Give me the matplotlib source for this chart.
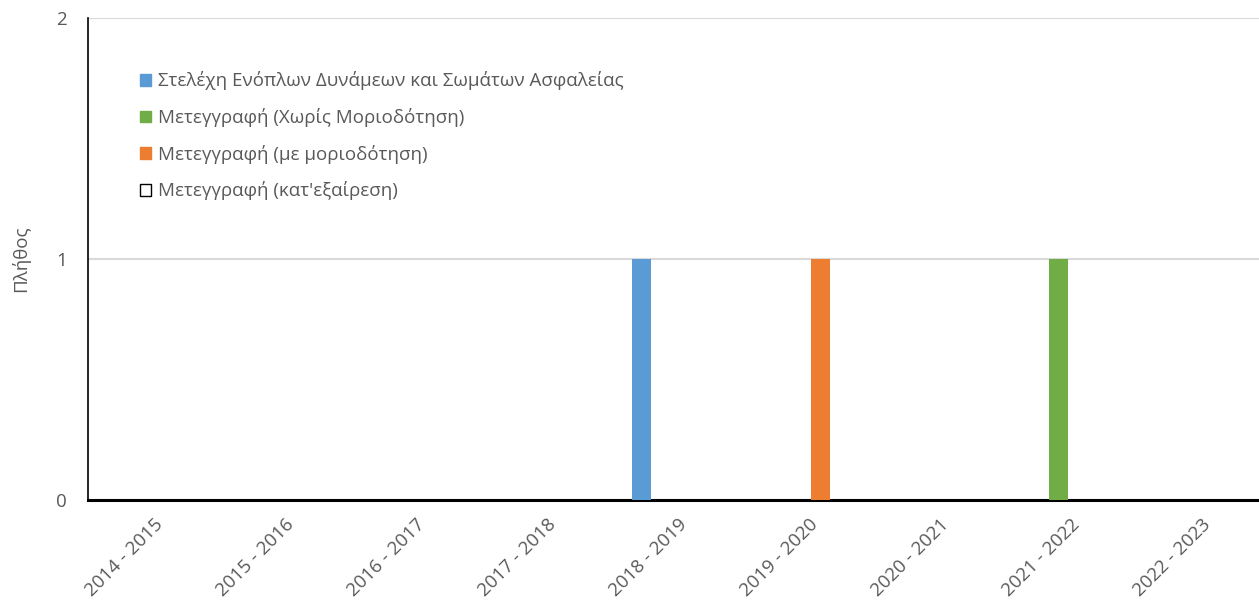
import matplotlib.pyplot as plt
import numpy as np
from matplotlib.patches import Patch

plt.rcParams['font.family'] = ['Open Sans', 'DejaVu Sans']

years = ["2014 - 2015", "2015 - 2016", "2016 - 2017", "2017 - 2018", "2018 - 2019",
         "2019 - 2020", "2020 - 2021", "2021 - 2022", "2022 - 2023"]
series_names = ["Στελέχη Ενόπλων Δυνάμεων και Σωμάτων Ασφαλείας",
                "Μετεγγραφή (Χωρίς Μοριοδότηση)",
                "Μετεγγραφή (με μοριοδότηση)",
                "Μετεγγραφή (κατ'εξαίρεση)"]
stelexi = [0, 0, 0, 0, 1, 0, 0, 0, 0]
xoris_moria = [0, 0, 0, 0, 0, 0, 0, 1, 0]
me_moria = [0, 0, 0, 0, 0, 1, 0, 0, 0]
kat_exairesi = [0, 0, 0, 0, 0, 0, 0, 0, 0]

values = [stelexi, xoris_moria, me_moria, kat_exairesi]
colors = ["#5B9BD5", "#70AD47", "#ED7D31", "white"]
edges = ["none", "none", "none", "black"]
gray = "#595959"
fs = 13.5

fig = plt.figure(figsize=(12.59, 6.04), dpi=100)
ax = fig.add_axes([88 / 1259, 1 - 500 / 604, (1267 - 88) / 1259, (500 - 18) / 604])

x = np.arange(len(years))
width = 0.145
pitch = 0.183
for i, (vals, c, e) in enumerate(zip(values, colors, edges)):
    ax.bar(x + (i - 1.5) * pitch, vals, width, color=c, edgecolor=e, linewidth=0.8, zorder=3)

ax.set_xlim(-0.5, len(years) - 0.5)
ax.set_ylim(0, 2)
ax.set_yticks([0, 1, 2])
ax.yaxis.grid(True, color="#D9D9D9", linewidth=1.5, zorder=0)
ax.set_axisbelow(True)
for s in ["top", "right"]:
    ax.spines[s].set_visible(False)
ax.spines["left"].set_color("black")
ax.spines["left"].set_linewidth(1.2)
ax.spines["bottom"].set_color("black")
ax.spines["bottom"].set_linewidth(2.2)
ax.tick_params(axis="both", length=0, colors=gray, labelsize=fs)
ax.tick_params(axis="y", pad=15)
ax.set_xticks(x)
ax.set_xticklabels(years, rotation=45, ha="right", va="top", rotation_mode="anchor")
ax.tick_params(axis="x", pad=11)
ax.set_ylabel("Πλήθος", color=gray, fontsize=fs, labelpad=19)

handles = [Patch(facecolor=c, edgecolor=("black" if e == "black" else c), linewidth=1.0)
           for c, e in zip(colors, edges)]
leg = ax.legend(handles, series_names, loc="upper left",
                bbox_to_anchor=(132 / 1259, 1 - 64 / 604), bbox_transform=fig.transFigure,
                frameon=False, fontsize=fs, handlelength=0.6, handleheight=0.6,
                handletextpad=0.4, labelspacing=0.94, borderaxespad=0)
for t in leg.get_texts():
    t.set_color(gray)

fig.savefig("out.png", dpi=100)
